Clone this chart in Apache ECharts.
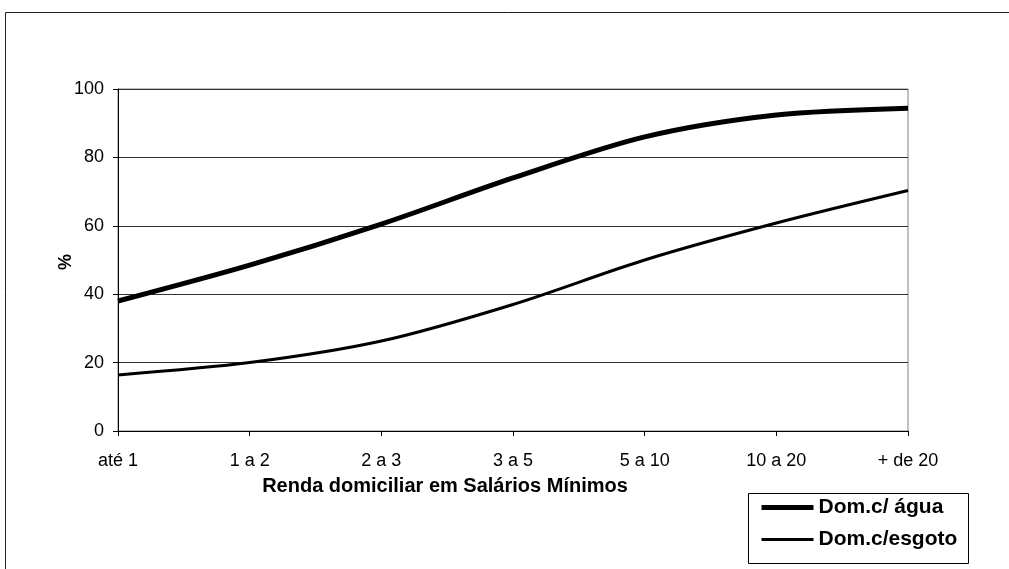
<!DOCTYPE html>
<html>
<head>
<meta charset="utf-8">
<script src="https://cdn.jsdelivr.net/npm/echarts@6/dist/echarts.min.js"></script>
<style>
  html, body { margin: 0; padding: 0; background: #fff; }
  #chart { width: 1009px; height: 569px; }
</style>
</head>
<body>
<div id="chart"></div>
<script>
// Faixas de renda domiciliar (em salários mínimos)
const categories = ['até 1', '1 a 2', '2 a 3', '3 a 5', '5 a 10', '10 a 20', '+ de 20'];
// Percentual de domicílios com água / com esgoto
const aguaValues = [38, 48.5, 60.5, 74, 86, 92.4, 94.4];
const esgotoValues = [16.4, 20, 26.3, 37, 50, 60.8, 70.3];
const yTicks = [0, 20, 40, 60, 80, 100];

const FONT = '"Liberation Sans", Arial, sans-serif';

const chart = echarts.init(document.getElementById('chart'), null, { renderer: 'canvas' });

chart.setOption({
  animation: false,
  backgroundColor: '#ffffff',
  color: ['#000', '#000'],
  grid: {
    left: 118, right: 101, top: 89, bottom: 138,
    show: true, borderColor: '#808080', borderWidth: 1, backgroundColor: 'transparent'
  },
  xAxis: {
    type: 'category',
    data: categories,
    boundaryGap: false,
    axisLine: { lineStyle: { color: '#000', width: 1 } },
    axisTick: { show: true, length: 5, lineStyle: { color: '#000' } },
    axisLabel: { color: '#000', fontFamily: FONT, fontSize: 18, margin: 21 },
    splitLine: { show: false }
  },
  yAxis: {
    type: 'value',
    min: yTicks[0],
    max: yTicks[yTicks.length - 1],
    interval: yTicks[1] - yTicks[0],
    axisLine: { show: true, lineStyle: { color: '#000', width: 1 } },
    axisTick: { show: true, length: 5, lineStyle: { color: '#000' } },
    axisLabel: { color: '#000', fontFamily: FONT, fontSize: 18, margin: 14 },
    splitLine: { show: true, lineStyle: { color: '#333', width: 1 } }
  },
  legend: {
    orient: 'vertical',
    left: 759,
    top: 497,
    padding: 0,
    itemWidth: 52,
    itemHeight: 14,
    itemGap: 11,
    selectedMode: false,
    itemStyle: { opacity: 0 },
    textStyle: { color: '#000', fontFamily: FONT, fontSize: 21, fontWeight: 'bold', lineHeight: 21 },
    data: [
      { name: 'Dom.c/ água', lineStyle: { color: '#000', width: 5 } },
      { name: 'Dom.c/esgoto', lineStyle: { color: '#000', width: 3 } }
    ]
  },
  graphic: [
    // moldura externa da figura
    {
      type: 'rect', silent: true, z: -10,
      shape: { x: 5.5, y: 12.5, width: 1100, height: 600 },
      style: { fill: 'none', stroke: '#222', lineWidth: 1 }
    },
    // caixa da legenda
    {
      type: 'rect', silent: true,
      shape: { x: 748.5, y: 493.5, width: 220, height: 70 },
      style: { fill: '#fff', stroke: '#000', lineWidth: 1 },
      z: 0
    },
    // título do eixo vertical
    {
      type: 'text', silent: true,
      x: 66, y: 262, rotation: Math.PI / 2,
      style: {
        text: '%',
        fill: '#000', font: 'bold 18px ' + FONT,
        textAlign: 'center', textVerticalAlign: 'middle'
      }
    },
    // título do eixo horizontal
    {
      type: 'text', silent: true,
      x: 445, y: 486,
      style: {
        text: 'Renda domiciliar em Salários Mínimos',
        fill: '#000', font: 'bold 20px ' + FONT,
        textAlign: 'center', textVerticalAlign: 'middle'
      }
    }
  ],
  series: [
    {
      name: 'Dom.c/ água',
      type: 'line',
      data: aguaValues,
      smooth: 0.3,
      symbol: 'none',
      itemStyle: { color: '#000' },
      lineStyle: { color: '#000', width: 5 },
      z: 5
    },
    {
      name: 'Dom.c/esgoto',
      type: 'line',
      data: esgotoValues,
      smooth: 0.3,
      symbol: 'none',
      itemStyle: { color: '#000' },
      lineStyle: { color: '#000', width: 3 },
      z: 4
    }
  ]
});
</script>
</body>
</html>
